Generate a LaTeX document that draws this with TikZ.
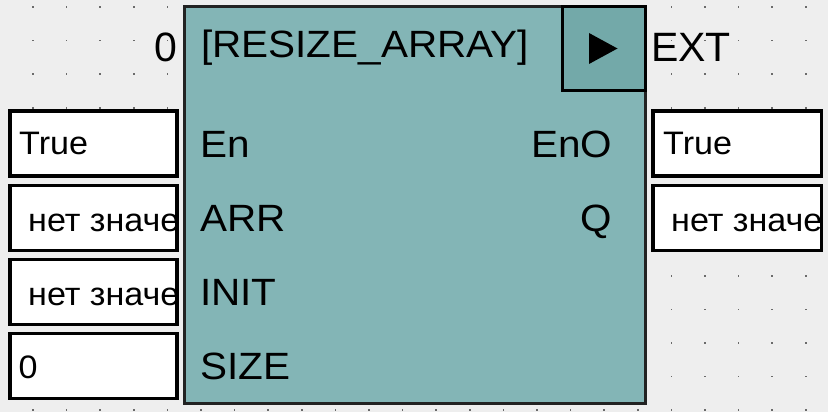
\documentclass[tikz,border=0pt]{standalone}
\usepackage{fontspec}
\setmainfont{Liberation Sans}
\newfontfamily\blockwide[FakeStretch=1.065]{Liberation Sans}
\newfontfamily\boxwide[FakeStretch=1.05]{Liberation Sans}
\definecolor{bg}{HTML}{EEEEEE}
\definecolor{blockfill}{HTML}{83B5B6}
\definecolor{headfill}{HTML}{73A9A9}
\definecolor{blockline}{HTML}{222222}
\definecolor{dotc}{HTML}{6A6A6A}
\begin{document}
\begin{tikzpicture}[x=1pt,y=-1pt,
  boxfont/.style={font=\boxwide\fontsize{32.5}{32.5}\selectfont},
  blockfont/.style={font=\blockwide\fontsize{38}{38}\selectfont},
  outfont/.style={font=\fontsize{41}{41}\selectfont},
  lbl/.style={inner sep=0pt, anchor=base west},
  rlbl/.style={inner sep=0pt, anchor=base east},
  valbox/.style={draw=black, line width=3.5pt, fill=white, minimum width=167pt, minimum height=65pt, inner sep=0pt, outer sep=0pt, anchor=north west},
  outbox/.style={valbox, minimum width=168.5pt},
  fbblock/.style={draw=blockline, line width=3pt, fill=blockfill, minimum width=461pt, minimum height=397pt, inner sep=0pt, outer sep=0pt, anchor=north west},
  hdrbox/.style={draw=black, line width=3pt, fill=headfill, minimum width=83.5pt, minimum height=84pt, inner sep=0pt, outer sep=0pt, anchor=north east}
]
\useasboundingbox (0,0) rectangle (828,412);
\fill[bg] (0,0) rectangle (828,412);
% dot grid
\foreach \i in {0,...,23}{
  \foreach \j in {0,...,12}{
    \fill[dotc] ({33+33.6*\i-0.8},{7+33.6*\j-0.8}) rectangle ++(1.6,1.6);
  }
}
% function block
\node[fbblock] (blk) at (184.5,6.5) {};
\node[hdrbox] (hdr) at (645.5,6.5) {};
\fill[black] (589,33) -- (589,64) -- (617.5,48.5) -- cycle;
% block texts
\node[lbl, blockfont] (title) at (201,58) {[RESIZE\_ARRAY]};
\node[lbl, blockfont] (en) at (200,157.5) {En};
\node[lbl, blockfont] (arr) at (200,231.5) {ARR};
\node[lbl, blockfont] (init) at (200,305.5) {INIT};
\node[lbl, blockfont] (size) at (200,379.5) {SIZE};
\node[rlbl, blockfont] (eno) at (612.5,157.5) {EnO};
\node[rlbl, blockfont] (q) at (612,231.5) {Q};
% outside labels
\node[rlbl, outfont] (zero) at (178,62) {0};
\node[lbl, outfont] (ext) at (651,62) {EXT};
% input boxes
\node[valbox] (in1) at (9.8,111) {};
\node[valbox] (in2) at (9.8,185.3) {};
\node[valbox] (in3) at (9.8,259.5) {};
\node[valbox] (in4) at (9.8,333.7) {};
\node[lbl, boxfont] (in1t) at (19,154.3) {True};
\begin{scope}
  \clip (in2.north west) rectangle (in2.south east);
  \node[lbl, boxfont] (in2t) at (28,231) {нет значе};
\end{scope}
\begin{scope}
  \clip (in3.north west) rectangle (in3.south east);
  \node[lbl, boxfont] (in3t) at (28,305) {нет значе};
\end{scope}
\node[lbl, boxfont] (in4t) at (18.5,378.3) {0};
% output boxes
\node[outbox] (out1) at (653,111) {};
\node[outbox] (out2) at (653,185.3) {};
\node[lbl, boxfont] (out1t) at (663,154.3) {True};
\begin{scope}
  \clip (out2.north west) rectangle (out2.south east);
  \node[lbl, boxfont] (out2t) at (671,231) {нет значе};
\end{scope}
\end{tikzpicture}
\end{document}
